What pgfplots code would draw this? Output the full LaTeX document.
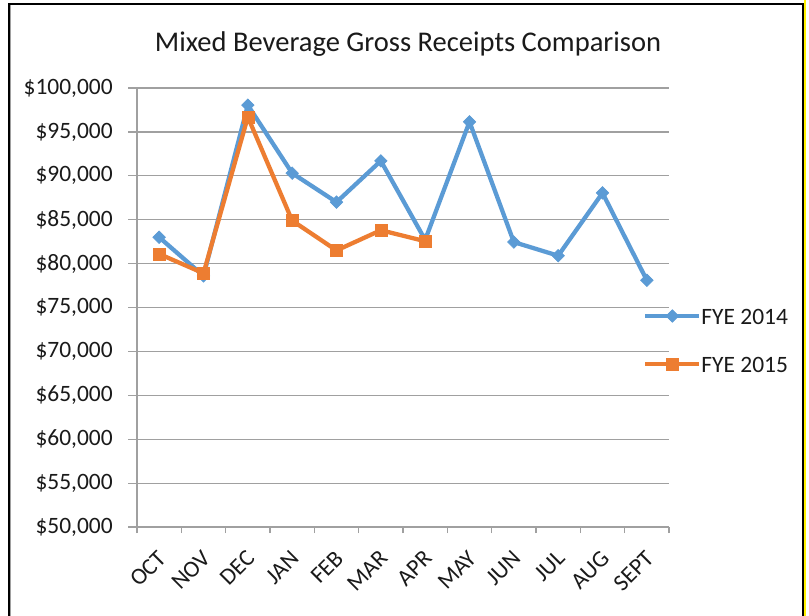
\documentclass[border=0pt]{standalone}
\usepackage{pgfplots}
\pgfplotsset{compat=1.18}
\usepackage{fontspec}
\setmainfont{Carlito}
\definecolor{s14}{HTML}{5B9BD5}
\definecolor{s15}{HTML}{ED7D31}
\definecolor{gridg}{HTML}{A0A0A0}
\definecolor{txt}{HTML}{1A1A1A}
\begin{document}
\begin{tikzpicture}
\begin{scope}[x=0.75pt,y=0.75pt]
\useasboundingbox (0,0) rectangle (809,615);
\fill[white] (0,0) rectangle (809,615);
\draw[black, line width=0.9pt] (9,-2) -- (9,611) -- (803,611) -- (803,-2);
\draw[gridg, line width=0.6pt] (10.3,-2) -- (10.3,609.7);
\draw[yellow, line width=1.5pt] (805,-2) -- (805,615);
\node[font=\fontsize{21.4pt}{26pt}\selectfont, text=txt, anchor=base, inner sep=0pt] at (408,563) {Mixed Beverage Gross Receipts Comparison};
\end{scope}
\begin{axis}[
  at={(102.75pt,66pt)}, anchor=south west,
  scale only axis, width=399pt, height=329.25pt,
  xmin=-0.5, xmax=11.5, ymin=50000, ymax=100000,
  axis x line*=bottom, axis y line*=left,
  axis line style={draw=gridg, line width=0.9pt, -},
  ymajorgrids, grid style={draw=gridg, line width=0.9pt},
  tick align=outside,
  major tick length=6.75pt,
  ytick={50000,55000,60000,65000,70000,75000,80000,85000,90000,95000,100000},
  yticklabels={{\$50,000},{\$55,000},{\$60,000},{\$65,000},{\$70,000},{\$75,000},{\$80,000},{\$85,000},{\$90,000},{\$95,000},{\$100,000}},
  scaled y ticks=false,
  ytick style={draw=gridg, line width=0.9pt},
  xtick={0,1,2,3,4,5,6,7,8,9,10,11},
  xticklabels={OCT,NOV,DEC,JAN,FEB,MAR,APR,MAY,JUN,JUL,AUG,SEPT},
  xtick style={draw=none},
  extra x ticks={-0.5,0.5,1.5,2.5,3.5,4.5,5.5,6.5,7.5,8.5,9.5,10.5,11.5},
  extra x tick labels={},
  extra x tick style={major tick length=4.5pt, xtick style={draw=gridg, line width=0.9pt}, grid=none},
  yticklabel style={font=\fontsize{17.6pt}{20pt}\selectfont, text=txt, inner sep=0pt, xshift=-11.25pt},
  xticklabel style={font=\fontsize{17.6pt}{20pt}\selectfont, text=txt, inner sep=0pt, rotate=45, anchor=east, xshift=-8.24pt, yshift=-11.35pt},
  legend style={draw=none, fill=none, at={(0.951,0.426)}, anchor=west, inner sep=0pt,
    font=\fontsize{17.6pt}{20pt}\selectfont, text=txt, row sep=23.5pt, column sep=0pt,
    nodes={inner sep=0pt, text height=12.5pt, text depth=0pt}},
  legend cell align=left,
  legend image code/.code={
    \draw[#1] (0pt,0pt) -- (40.5pt,0pt);
    \draw[#1] plot coordinates {(20.25pt,0pt)};
  },
  clip=false,
]
\addplot[color=s14, line width=3.2pt, mark=square*, mark size=3.3pt,
  mark options={rotate=45, fill=s14, draw=s14, line width=0.5pt, solid}]
  coordinates {(0,83000) (1,78600) (2,98050) (3,90300) (4,87000) (5,91700) (6,82700) (7,96150) (8,82450) (9,80900) (10,88050) (11,78100)};
\addlegendentry{FYE 2014}
\addplot[color=s15, line width=3.2pt, mark=square*, mark size=4.5pt,
  mark options={fill=s15, draw=s15, line width=0.5pt, solid}]
  coordinates {(0,81100) (1,78900) (2,96700) (3,84900) (4,81500) (5,83800) (6,82550)};
\addlegendentry{FYE 2015}
\end{axis}
\end{tikzpicture}
\end{document}
